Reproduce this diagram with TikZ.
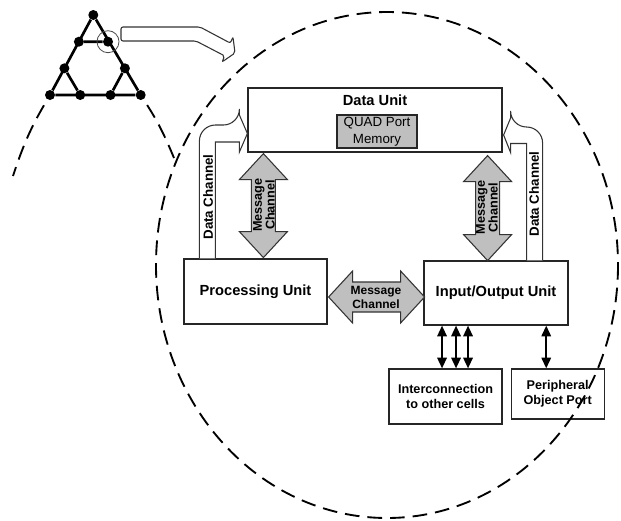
\documentclass[tikz,border=0pt]{standalone}
\usepackage{fontspec}
\setmainfont{Liberation Sans}
\usetikzlibrary{arrows.meta, calc, positioning}
\tikzset{
    unit/.style={draw=black!85, line width=0.9pt, font=\bfseries\fontsize{11}{13}\selectfont}, % the big boxes of the cell
    smallunit/.style={draw=black!85, line width=0.9pt, align=center, font=\bfseries\fontsize{9.5}{11}\selectfont}, % the boxes below the cell
    memory/.style={draw=black!85, fill=gray!50, line width=0.9pt, align=center, inner sep=0pt, font=\fontsize{10}{13}\selectfont}, % the grey box in the data unit
    msgchan/.style={draw=black!80, fill=gray!50, line width=0.8pt}, % the grey double arrows
    msglabel/.style={align=center, inner sep=0pt, font=\bfseries\fontsize{9}{10.5}\selectfont}, % text on a grey arrow
    datachan/.style={draw=black!80, fill=white, line width=0.8pt}, % the white bent arrows
    chanlabel/.style={font=\bfseries\fontsize{10}{12}\selectfont, inner sep=0pt}, % text inside a white arrow
    link/.style={<->, line width=1.5pt}, % the thin double arrows
    dot/.style={circle, fill=black, inner sep=0pt, minimum size=7.5pt}, % the nodes of the triangle
    zoomline/.style={dash pattern=on 11pt off 6pt, line width=1.4pt}, % the dashed outlines
    >={Triangle[length=8pt, width=7pt]}, % heavy arrow heads
}

\begin{document}
\begin{tikzpicture}[x=0.75pt, y=-0.75pt]
\useasboundingbox (0,0) rectangle (621,521);

% the small triangle of cells
\node[dot] (a) at (93.3,15) {};
\node[dot] (b) at (78.9,41.7) {};
\node[dot] (c) at (108,41.7) {};
\node[dot] (d) at (64.4,68.3) {};
\node[dot] (e) at (124.9,68.3) {};
\node[dot] (f) at (50,95) {};
\node[dot] (g) at (80.2,95) {};
\node[dot] (h) at (110.5,95) {};
\node[dot] (i) at (140.7,95) {};
\draw[line width=2pt] (a) -- (f) -- (i) -- (a) (b) -- (c) (d) -- (g) (e) -- (h);
\node[draw=black!70, circle, minimum size=16.5pt, line width=0.6pt] (lens) at (c) {};

% the arrow to the enlarged cell
\draw[datachan, rounded corners=1.5pt] (121,27) -- (200,27) -- (230.3,43.1) -- (233,37) -- (235,53)
    -- (222,62) -- (224.7,55.9) -- (196,41) -- (121,41) -- cycle;

\coordinate (cl) at (13,176);
\coordinate (cr) at (174,158);
\draw[zoomline, shorten <=5pt] (f) to[bend right=6] (cl);
\draw[zoomline, shorten <=5pt] (i) to[bend left=5] (cr);

% the cell
\node[unit, minimum width=190.5pt, minimum height=48pt] (du) at (375,120) {};
\node[unit, draw=none] (dutitle) at ($(du.north)+(0,13)$) {Data Unit};
\node[memory, minimum width=60pt, minimum height=24.75pt] (qpm) at (377,131.5) {QUAD Port\\Memory};
\node[unit, minimum width=107.25pt, minimum height=48.75pt] (pu) at (255.5,291.5) {Processing Unit};
\node[unit, minimum width=108pt, minimum height=48pt] (io) at (496,293) {Input/Output Unit};
\node[smallunit, minimum width=84.75pt, minimum height=41.25pt] (ic) at (445.5,396.5) {Interconnection\\to other cells};
\node[smallunit, minimum width=69.75pt, minimum height=37.5pt, right=6pt of ic.north east, anchor=north west] (pp) {Peripheral\\Object Port};

% message channels
\draw[msgchan] ($(pu.east)+(1,5.5)$) -- ++(24,-26) -- ++(0,11) -- ++(48,0) -- ++(0,-11) -- ++(24,26)
    -- ++(-24,26) -- ++(0,-11) -- ++(-48,0) -- ++(0,11) -- cycle;
\draw[msgchan] ($(du.south west)+(16,1)$) -- ++(24,26) -- ++(-12,0) -- ++(0,52) -- ++(12,0) -- ++(-24,26)
    -- ++(-24,-26) -- ++(12,0) -- ++(0,-52) -- ++(-12,0) -- cycle;
\draw[msgchan] ($(du.south east)+(-15,3)$) -- ++(24,26) -- ++(-12,0) -- ++(0,53) -- ++(12,0) -- ++(-24,26)
    -- ++(-24,-26) -- ++(12,0) -- ++(0,-53) -- ++(-12,0) -- cycle;
\node[msglabel] (mh) at (376,297) {Message\\Channel};
\node[msglabel, rotate=90, font=\bfseries\fontsize{9.5}{9.5}\selectfont] (ml) at (264,205) {Message\\Channel};
\node[msglabel, rotate=90, font=\bfseries\fontsize{9.5}{9.5}\selectfont] (mr) at (487,207.5) {Message\\Channel};

% data channels
\draw[datachan] ($(pu.north west)+(16,0)$) [rounded corners=12pt] |- ($(du.west)+(-8,5)$) [sharp corners]
    -- ++(0,-10) -- ($(du.west)+(0,13.5)$) -- ++(-8,18.5) -- ++(0,-10) -| ($(pu.north west)+(32,0)$);
\draw[datachan] ($(io.north east)+(-26,0)$) [rounded corners=12pt] |- ($(du.east)+(8,7)$) [sharp corners]
    -- ++(0,-9) -- ($(du.east)+(1,15)$) -- ++(7,17.5) -- ++(0,-9) -| ($(io.north east)+(-42,0)$);
\node[chanlabel, rotate=90] (dcl) at (208,197) {Data Channel};
\node[chanlabel, rotate=90] (dcr) at (534,194) {Data Channel};

% links to the outside
\foreach \dx in {-2.6,7.9,16.9}
    \draw[link] ([xshift=\dx pt]ic.north) -- ([xshift=\dx pt]ic.north |- io.south);
\draw[link] ([xshift=-8.6pt]pp.north) -- ([xshift=-8.6pt]pp.north |- io.south);

% the enlarged cell outline
\draw[zoomline] (387,265) ellipse [x radius=231, y radius=253];
\end{tikzpicture}
\end{document}
